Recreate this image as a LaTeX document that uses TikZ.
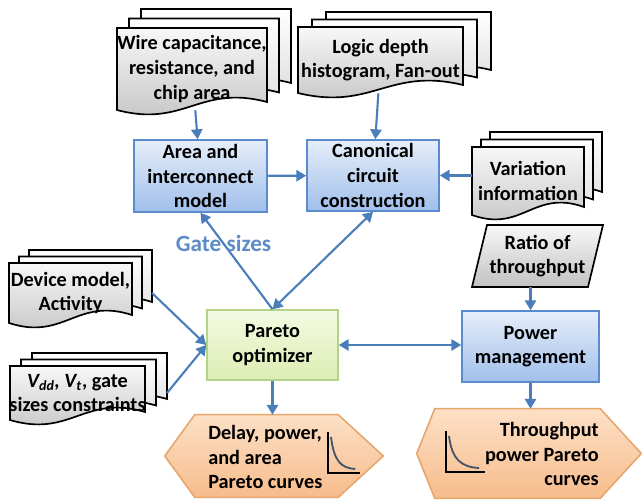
\documentclass[tikz,border=0pt]{standalone}
\usepackage{fontspec}
\setmainfont{Carlito}
\usetikzlibrary{calc,arrows.meta}

\definecolor{flowblue}{HTML}{4A7EBB}
\definecolor{boxline}{HTML}{5B8BCF}
\definecolor{boxtop}{HTML}{E6EEFA}
\definecolor{boxbot}{HTML}{A0BFEA}
\definecolor{optline}{HTML}{B3D38A}
\definecolor{opttop}{HTML}{F4FAE2}
\definecolor{optbot}{HTML}{DCEDB2}
\definecolor{hexline}{HTML}{E6A56B}
\definecolor{hextop}{HTML}{FCE0C6}
\definecolor{hexbot}{HTML}{F7BC8C}
\definecolor{curveblue}{HTML}{44546A}
\definecolor{labelblue}{HTML}{5B8CC8}

\begin{document}
\begin{tikzpicture}[x=0.025cm,y=-0.025cm,
        font=\fontsize{14.4}{17.5}\selectfont\bfseries,
        flow/.style={draw=flowblue,line width=1.5pt,-{Triangle[length=7pt,width=8pt]}},
        flowboth/.style={flow,{Triangle[length=7pt,width=8pt]}-{Triangle[length=7pt,width=8pt]}},
        procbox/.style={draw=boxline,line width=1.1pt,top color=boxtop,bottom color=boxbot,align=center,inner sep=0pt},
        optbox/.style={procbox,draw=optline,top color=opttop,bottom color=optbot},
        docfront/.style={draw=black,line width=1.2pt,top color=gray!6,bottom color=gray!48},
        docback/.style={draw=black,line width=1.2pt,top color=white,bottom color=gray!30},
        doctext/.style={align=center,inner sep=0pt},
        hexshape/.style={draw=hexline,line width=1.1pt,top color=hextop,bottom color=hexbot},
        gatelbl/.style={text=labelblue,font=\fontsize{16.5}{20}\selectfont\bfseries}]
        \def\pxu{0.025cm}

        % Stack macro:
        % #1 = name
        % #2,#3 = top left of front sheet
        % #4 = width, #5 = height
        % #6,#7 = shift of each back sheet
        % #8 = text
        \newcommand{\docstack}[8]{%
            \pgfmathsetmacro{\xr}{#2+#4}%
            \pgfmathsetmacro{\yl}{#3+#5}%
            \pgfmathsetmacro{\yr}{#3+#5-8}%
            \pgfmathsetmacro{\ca}{#2+0.55*#4}%
            \pgfmathsetmacro{\cb}{#2+0.45*#4}%
            \pgfmathsetmacro{\ya}{#3+#5-26}%
            \pgfmathsetmacro{\yb}{#3+#5+18}%

            % back sheets
            \foreach \k in {2,1} {
                \path[docback,shift={(\k*#6,-\k*#7)}] (#2,#3) -- (\xr,#3) -- (\xr,\yr)
                    .. controls (\ca,\ya) and (\cb,\yb) .. (#2,\yl) -- cycle;
            }

            % front sheet
            \path[docfront] (#2,#3) -- (\xr,#3) -- (\xr,\yr)
                .. controls (\ca,\ya) and (\cb,\yb) .. (#2,\yl) -- cycle;
            \node[doctext,minimum width=#4*\pxu,minimum height=#5*\pxu] (#1) at ({#2+#4/2},{#3+#5/2}) {#8};
            \coordinate (#1-r) at ({#2+#4+2*#6},{#3+#5/2});
        }

        % Icon macro:
        % #1,#2 = axis corner
        % #3 = axis length
        \newcommand{\paretoicon}[3]{%
            \draw[curveblue,line width=1.3pt] ({#1+3},{#2-36}) .. controls ({#1+6},{#2-12}) and ({#1+0.4*#3},{#2-5}) .. ({#1+0.85*#3},{#2-4});
            \draw[black,line width=1.4pt] (#1,{#2-41}) -- (#1,#2) -- ({#1+#3},#2);
        }

        \useasboundingbox (0,0) rectangle (642,499);

        % inputs
        \docstack{wire}{117}{28}{150}{82}{12}{9.5}{Wire capacitance,\\resistance, and\\chip area}
        \docstack{logic}{298}{27}{165}{66}{14}{7.5}{Logic depth\\histogram, Fan-out}
        \docstack{var}{472}{147}{112}{68}{9}{7.5}{Variation\\information}
        \docstack{device}{9}{263}{123}{60}{10}{6.5}{Device model,\\Activity}
        \docstack{vdd}{10}{366}{135}{54}{11}{6.5}{\textit{V\textsubscript{dd}, V\textsubscript{t}}, gate\\sizes constraints}

        % ratio input
        \path[docfront] (472,287) -- (487,225) -- (603,225) -- (588,287) -- cycle;
        \node[doctext,minimum width=116*\pxu,minimum height=62*\pxu] (ratio) at (537.5,256) {Ratio of\\throughput};

        % blocks
        \node[procbox,minimum width=133*\pxu,minimum height=72*\pxu] (area) at (200.5,176) {Area and\\interconnect\\model};
        \node[procbox,minimum width=132*\pxu,minimum height=71*\pxu] (canon) at (373,175.5) {Canonical\\circuit\\construction};
        \node[optbox,minimum width=131*\pxu,minimum height=70*\pxu] (pareto) at (272.5,345) {Pareto\\optimizer};
        \node[procbox,minimum width=137*\pxu,minimum height=71*\pxu] (power) at (530.5,346.5) {Power\\management};

        % outputs
        \node[inner sep=0pt,minimum width=218*\pxu,minimum height=82*\pxu] (delay) at (274,456) {};
        \path[hexshape] (delay.west) -- ($(delay.north west)+(30,0)$) -- ($(delay.north east)+(-45,0)$)
            -- (delay.east) -- ($(delay.south east)+(-45,0)$) -- ($(delay.south west)+(30,0)$) -- cycle;
        \node[anchor=west,align=left,inner sep=0pt] (delaytxt) at (208,457) {Delay, power,\\and area\\Pareto curves};
        \paretoicon{328}{473}{32}

        \node[inner sep=0pt,minimum width=224*\pxu,minimum height=89*\pxu] (thru) at (529,453.5) {};
        \path[hexshape] (thru.west) -- ($(thru.north west)+(18,0)$) -- ($(thru.north east)+(-41,0)$)
            -- (thru.east) -- ($(thru.south east)+(-41,0)$) -- ($(thru.south west)+(18,0)$) -- cycle;
        \node[anchor=east,align=right,inner sep=0pt] (thrutxt) at (599,454) {Throughput\\power Pareto\\curves};
        \paretoicon{446}{472}{39}

        % connectors
        \draw[flow] (wire) -- (area);
        \draw[flow] (logic) -- (canon);
        \draw[flow] (area) -- (canon);
        \draw[flow] (var.west |- canon.east) -- (canon.east);
        \draw[flow] (pareto.north) -- node[gatelbl,pos=0.68] (gates) {Gate sizes} (area.south);
        \draw[flowboth] (canon.south) -- (pareto.north);
        \draw[flow] (device-r) -- (pareto.west);
        \draw[flow] (vdd-r) -- (pareto.west);
        \draw[flowboth] (pareto.east) -- (pareto.east -| power.west);
        \draw[flow] (pareto.south) -- (pareto.south |- delay.north);
        \draw[flow] (power.north |- ratio.south) -- (power.north);
        \draw[flow] (power.south) -- (power.south |- thru.north);
    \end{tikzpicture}
\end{document}
